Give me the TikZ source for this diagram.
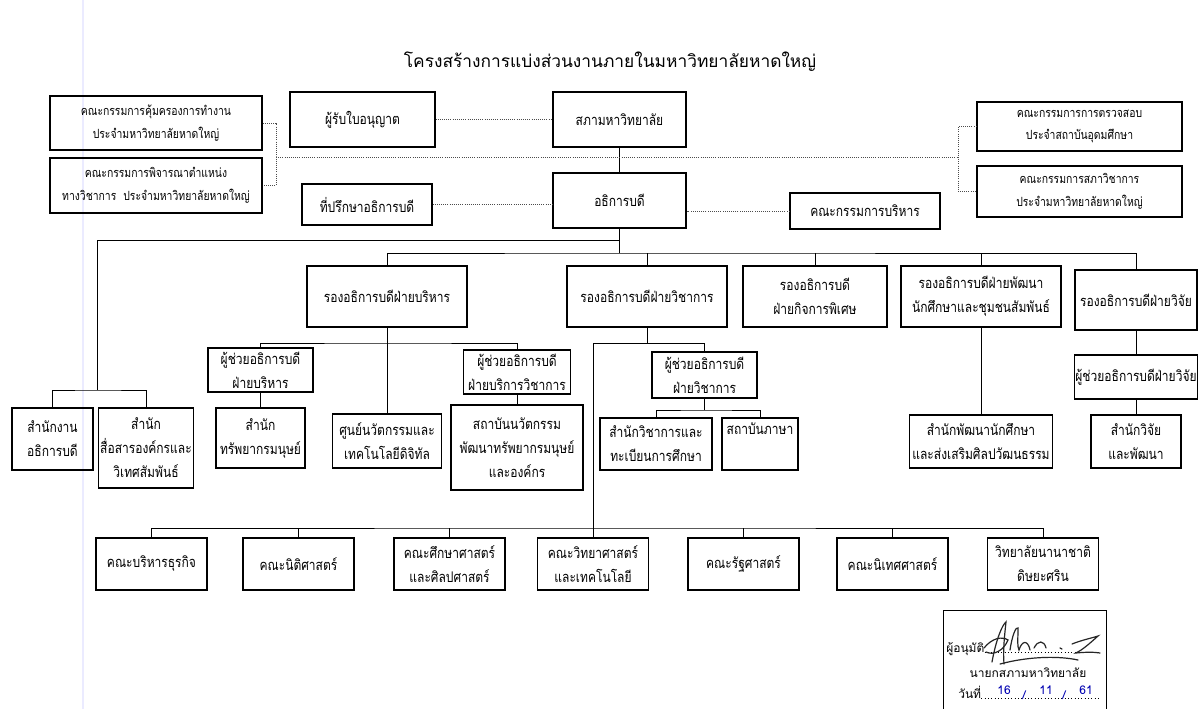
\documentclass[tikz,border=0pt]{standalone}
\usepackage{fontspec}
\newfontfamily\thaifont[Script=Thai,FakeStretch=0.82]{Loma}
\newfontfamily\thaiwide[Script=Thai]{Loma}
\usetikzlibrary{positioning}

\begin{document}
\begin{tikzpicture}[x=0.75pt,y=-0.75pt,
    box/.style={draw, line width=0.8pt, align=center, inner sep=1pt,
        font=\thaifont\fontsize{11}{18}\selectfont},
    smallbox/.style={box, font=\thaifont\fontsize{9.5}{17}\selectfont},
    wh/.style 2 args={minimum width=#1*0.75pt, minimum height=#2*0.75pt},
    link/.style={line width=0.6pt},
    dotlink/.style={line width=0.6pt, densely dotted, black!70},
    sig/.style={line width=0.9pt, black!85, line cap=round},
    hand/.style={font=\thaiwide\fontsize{9}{9}\selectfont, text=blue!70!black}]

    \useasboundingbox[fill=white] (0,0) rectangle (1198,709);
    \draw[line width=0.8pt, blue!8] (83,0) -- (83,709);

    % Title
    \node[font=\thaiwide\fontsize{13}{15}\selectfont] (title) at (610,62) {โครงสร้างการแบ่งส่วนงานภายในมหาวิทยาลัยหาดใหญ่};

    % Top level
    \node[smallbox, wh={212}{54}] (c1) at (156,123) {คณะกรรมการคุ้มครองการทำงาน\\ประจำมหาวิทยาลัยหาดใหญ่};
    \node[smallbox, wh={212}{55}] (c2) at (156,185.5) {คณะกรรมการพิจารณาตำแหน่ง\\ทางวิชาการ~~ประจำมหาวิทยาลัยหาดใหญ่};
    \node[box, wh={145}{55}] (lic) at (362.5,119.5) {ผู้รับใบอนุญาต};
    \node[box, wh={133}{55}] (sapha) at (619.5,119.5) {สภามหาวิทยาลัย};
    \node[box, wh={133}{55}] (rector) at (619.5,200.5) {อธิการบดี};
    \node[box, wh={130}{41}] (adv) at (367,204.5) {ที่ปรึกษาอธิการบดี};
    \node[box, wh={150}{36}] (exec) at (865,211) {คณะกรรมการบริหาร};
    \node[smallbox, wh={205}{49}] (r1) at (1079.5,126.5) {คณะกรรมการการตรวจสอบ\\ประจำสถาบันอุดมศึกษา};
    \node[smallbox, wh={205}{51}] (r2) at (1079.5,191.5) {คณะกรรมการสภาวิชาการ\\ประจำมหาวิทยาลัยหาดใหญ่};

    \coordinate (bl) at (276,157);
    \coordinate (br) at (958,157);
    \draw[dotlink] (lic) -- (sapha);
    \draw[link] (sapha) -- (rector);
    \draw[dotlink] (adv.east) -- (adv.east -| rector.west);
    \draw[dotlink] (exec.west) -- (exec.west -| rector.east);
    \draw[dotlink] (c1.east) -| (bl) |- (c2.east);
    \draw[dotlink] (r1.west) -| (br) |- (r2.west);
    \draw[dotlink] (bl) -- (br);

    % Vice presidents
    \node[box, wh={160}{61}] (vpadm) at (387,296.5) {รองอธิการบดีฝ่ายบริหาร};
    \node[box, wh={160}{61}] (vpacad) at (647,296.5) {รองอธิการบดีฝ่ายวิชาการ};
    \node[box, wh={144}{61}] (vpspec) at (815,296.5) {รองอธิการบดี\\ฝ่ายกิจการพิเศษ};
    \node[box, wh={160}{61}] (vpstu) at (981,296.5) {รองอธิการบดีฝ่ายพัฒนา\\นักศึกษาและชุมชนสัมพันธ์};
    \node[box, wh={122}{60}] (vpres) at (1136,300) {รองอธิการบดีฝ่ายวิจัย};

    \coordinate (t1) at (619.5,240);
    \coordinate (t2) at (619.5,253);
    \coordinate (lb) at (97,240);
    \coordinate (lj) at (97,390);
    \draw[link] (rector.south) -- (t2);
    \draw[link] (t1) -- (lb) -- (lj);
    \draw[link] (vpadm.north) |- (t2) -| (vpres.north);
    \foreach \n in {vpacad,vpspec,vpstu}
        \draw[link] (\n.north) -- (\n.north |- t2);

    % President's offices
    \node[box, wh={81}{62}] (off) at (52.5,439) {สำนักงาน\\อธิการบดี};
    \node[box, wh={88}{80}] (comm) at (146,448) {สำนัก\\สื่อสารองค์กรและ\\วิเทศสัมพันธ์};
    \draw[link] (off.north) |- (lj) -| (comm.north);

    % Administration
    \node[box, wh={105}{44}] (asstadm) at (260.5,370) {ผู้ช่วยอธิการบดี\\ฝ่ายบริหาร};
    \node[box, wh={89}{60}] (hr) at (260.5,438) {สำนัก\\ทรัพยากรมนุษย์};
    \node[box, wh={109}{54}] (innov) at (387,441) {ศูนย์นวัตกรรมและ\\เทคโนโลยีดิจิทัล};
    \node[box, wh={107}{44}] (asstsvc) at (517,372) {ผู้ช่วยอธิการบดี\\ฝ่ายบริการวิชาการ};
    \node[box, wh={132}{85}] (inst) at (517,447.5) {สถาบันนวัตกรรม\\พัฒนาทรัพยากรมนุษย์\\และองค์กร};

    \coordinate (aj) at (387,343);
    \draw[link] (vpadm.south) -- (innov.north);
    \draw[link] (asstadm.north) |- (aj) -| (asstsvc.north);
    \draw[link] (asstadm) -- (hr);
    \draw[link] (asstsvc) -- (inst);

    % Academic affairs
    \node[box, wh={105}{46}] (asstacad) at (704.5,375) {ผู้ช่วยอธิการบดี\\ฝ่ายวิชาการ};
    \node[box, wh={112}{52}] (reg) at (656,444) {สำนักวิชาการและ\\ทะเบียนการศึกษา};
    \node[box, wh={76}{52}] (lang) at (760,444) {สถาบันภาษา\\\strut};

    \coordinate (cj) at (647,343);
    \coordinate (fj) at (593,343);
    \coordinate (sj) at (704.5,410);
    \draw[link] (vpacad.south) -- (cj);
    \draw[link] (fj) -| (asstacad.north);
    \draw[link] (asstacad.south) -- (sj);
    \draw[link] (reg.north) |- (sj) -| (lang.north);

    % Student affairs and research
    \node[box, wh={143}{53}] (stuoff) at (981,441.5) {สำนักพัฒนานักศึกษา\\และส่งเสริมศิลปวัฒนธรรม};
    \node[box, wh={122}{44}] (asstres) at (1136,377) {ผู้ช่วยอธิการบดีฝ่ายวิจัย};
    \node[box, wh={90}{53}] (resoff) at (1136,441.5) {สำนักวิจัย\\และพัฒนา};
    \draw[link] (vpstu) -- (stuoff);
    \draw[link] (vpres) -- (asstres);
    \draw[link] (asstres) -- (resoff);

    % Faculties
    \node[box, wh={111}{52}] (fac1) at (151.5,564) {คณะบริหารธุรกิจ};
    \node[box, wh={111}{52}] (fac2) at (298.5,564) {คณะนิติศาสตร์};
    \node[box, wh={111}{52}] (fac3) at (449.5,564) {คณะศึกษาศาสตร์\\และศิลปศาสตร์};
    \node[box, wh={111}{52}] (fac4) at (593,564) {คณะวิทยาศาสตร์\\และเทคโนโลยี};
    \node[box, wh={111}{52}] (fac5) at (743.5,564) {คณะรัฐศาสตร์};
    \node[box, wh={111}{52}] (fac6) at (892.5,564) {คณะนิเทศศาสตร์};
    \node[box, wh={111}{52}] (fac7) at (1043,564) {วิทยาลัยนานาชาติ\\ดิษยะศริน};

    \coordinate (fb) at (593,528);
    \draw[link] (fj) -- (fac4.north);
    \draw[link] (fac1.north) |- (fb) -| (fac7.north);
    \foreach \n in {fac2,fac3,fac5,fac6}
        \draw[link] (\n.north) -- (\n.north |- fb);

    % Approval
    \draw[line width=0.7pt] (943,709) -- (943,610) -- (1106,610) -- (1106,709);
    \node[anchor=base west, inner sep=0pt, font=\thaiwide\fontsize{9}{9}\selectfont] (appr) at (946,652) {ผู้อนุมัติ};
    \coordinate (apprend) at (1100,652);
    \draw[dotted, line width=0.5pt] (appr.base east) -- (apprend);
    \draw[sig] (992,662) .. controls (996,640) and (1002,625) .. (1006,622) .. controls (1004,640) and (1003,652) .. (1004,664);
    \draw[sig] (984,648) .. controls (992,638) and (1002,636) .. (1008,640) .. controls (1004,650) and (994,656) .. (986,652);
    \draw[sig] (1010,650) .. controls (1012,636) and (1016,626) .. (1018,628) .. controls (1018,640) and (1017,646) .. (1019,650) .. controls (1022,640) and (1028,640) .. (1030,650);
    \draw[sig] (1034,648) .. controls (1038,640) and (1044,640) .. (1046,648);
    \draw[sig] (1060,648) -- (1062,649);
    \draw[sig] (1072,644) .. controls (1082,640) and (1092,638) .. (1098,636) .. controls (1088,645) and (1082,650) .. (1076,653) .. controls (1086,652) and (1094,652) .. (1100,653);
    \draw[sig] (1000,664) .. controls (1030,656) and (1060,656) .. (1078,660);
    \node[font=\thaiwide\fontsize{9}{9}\selectfont] (chair) at (1028,673) {นายกสภามหาวิทยาลัย};
    \node[anchor=base west, inner sep=0pt, font=\thaiwide\fontsize{9}{9}\selectfont] (date) at (958,698) {วันที่};
    \coordinate (dateend) at (1100,698);
    \draw[dotted, line width=0.5pt] (date.base east) -- (dateend);
    \node[hand] (dd) at (1004,690) {16};
    \node[hand] (s1) at (1024,695) {/};
    \node[hand] (mm) at (1046,690) {11};
    \node[hand] (s2) at (1064,695) {/};
    \node[hand] (yy) at (1086,690) {61};
\end{tikzpicture}
\end{document}
